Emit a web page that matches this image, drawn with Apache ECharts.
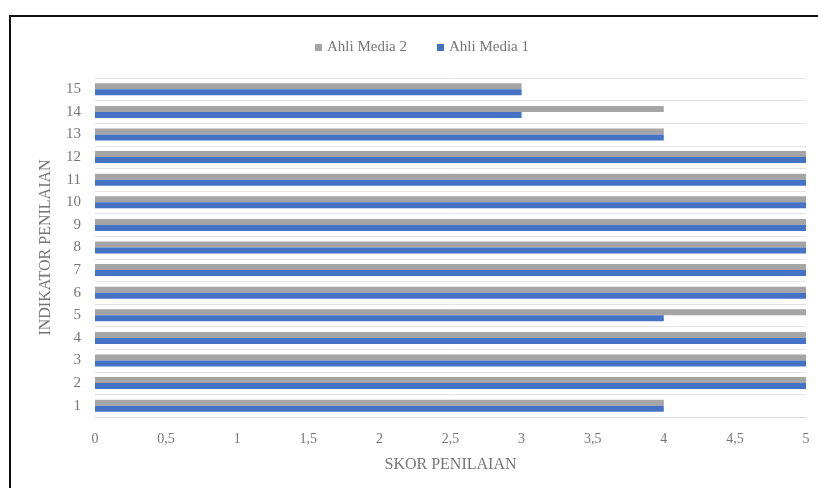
<!DOCTYPE html>
<html>
<head>
<meta charset="utf-8">
<script src="https://cdn.jsdelivr.net/npm/echarts@6/dist/echarts.min.js"></script>
<style>
  html, body { margin: 0; padding: 0; background: #fff; }
  .frame { position: absolute; left: 9px; top: 15px; width: 809px; height: 473px;
           border-top: 2px solid #111; border-left: 2px solid #111; box-sizing: border-box; }
  #chart { position: absolute; left: 0; top: 0; width: 818px; height: 488px; }
</style>
</head>
<body>
<div class="frame"></div>
<div id="chart"></div>
<script>
(function () {
  var myChart = echarts.init(document.getElementById("chart"));

  // data
  var categories = ["1", "2", "3", "4", "5", "6", "7", "8", "9", "10", "11", "12", "13", "14", "15"];
  var media1 = [4, 5, 5, 5, 4, 5, 5, 5, 5, 5, 5, 5, 4, 3, 3];
  var media2 = [4, 5, 5, 5, 5, 5, 5, 5, 5, 5, 5, 5, 4, 4, 3];
  var xTicks = ["0", "0,5", "1", "1,5", "2", "2,5", "3", "3,5", "4", "4,5", "5"];

  var font = "Liberation Serif";
  var txt = "#767676";

  var option = {
    backgroundColor: "transparent",
    textStyle: { fontFamily: font },
    legend: {
      data: ["Ahli Media 2", "Ahli Media 1"],
      top: 35,
      left: 310,
      icon: "rect",
      itemWidth: 7,
      itemHeight: 7,
      itemGap: 30,
      textStyle: { color: txt, fontFamily: font, fontSize: 15 },
    },
    grid: {
      left: 95,
      right: 12,
      top: 78,
      bottom: 71,
    },
    xAxis: {
      type: "value",
      min: 0,
      max: 5,
      interval: 0.5,
      name: "SKOR PENILAIAN",
      nameLocation: "middle",
      nameGap: 40,
      nameTextStyle: { color: txt, fontFamily: font, fontSize: 16 },
      axisLine: { show: true, lineStyle: { color: "#d9d9d9" } },
      axisTick: { show: false },
      splitLine: { show: false },
      axisLabel: {
        color: txt,
        fontFamily: font,
        fontSize: 14,
        margin: 15,
        formatter: function (v) {
          return xTicks[Math.round(v * 2)];
        },
      },
    },
    yAxis: {
      type: "category",
      data: categories,
      name: "INDIKATOR PENILAIAN",
      nameLocation: "middle",
      nameRotate: 90,
      nameGap: 41,
      nameTextStyle: { color: txt, fontFamily: font, fontSize: 16 },
      axisLine: { show: false },
      axisTick: { show: false },
      splitLine: { show: true, lineStyle: { color: "#e3e3e3" } },
      axisLabel: { color: txt, fontFamily: font, fontSize: 15, margin: 14 },
    },
    series: [
      {
        name: "Ahli Media 2",
        type: "bar",
        data: media2,
        barWidth: 6,
        barGap: "0%",
        itemStyle: { color: "#A5A5A5" },
      },
      {
        name: "Ahli Media 1",
        type: "bar",
        data: media1,
        barWidth: 6,
        barGap: "0%",
        itemStyle: { color: "#4472C4" },
      },
    ],
  };
  myChart.setOption(option);

  window.addEventListener("resize", function () {
    myChart.resize();
  });
})();
</script>
</body>
</html>
